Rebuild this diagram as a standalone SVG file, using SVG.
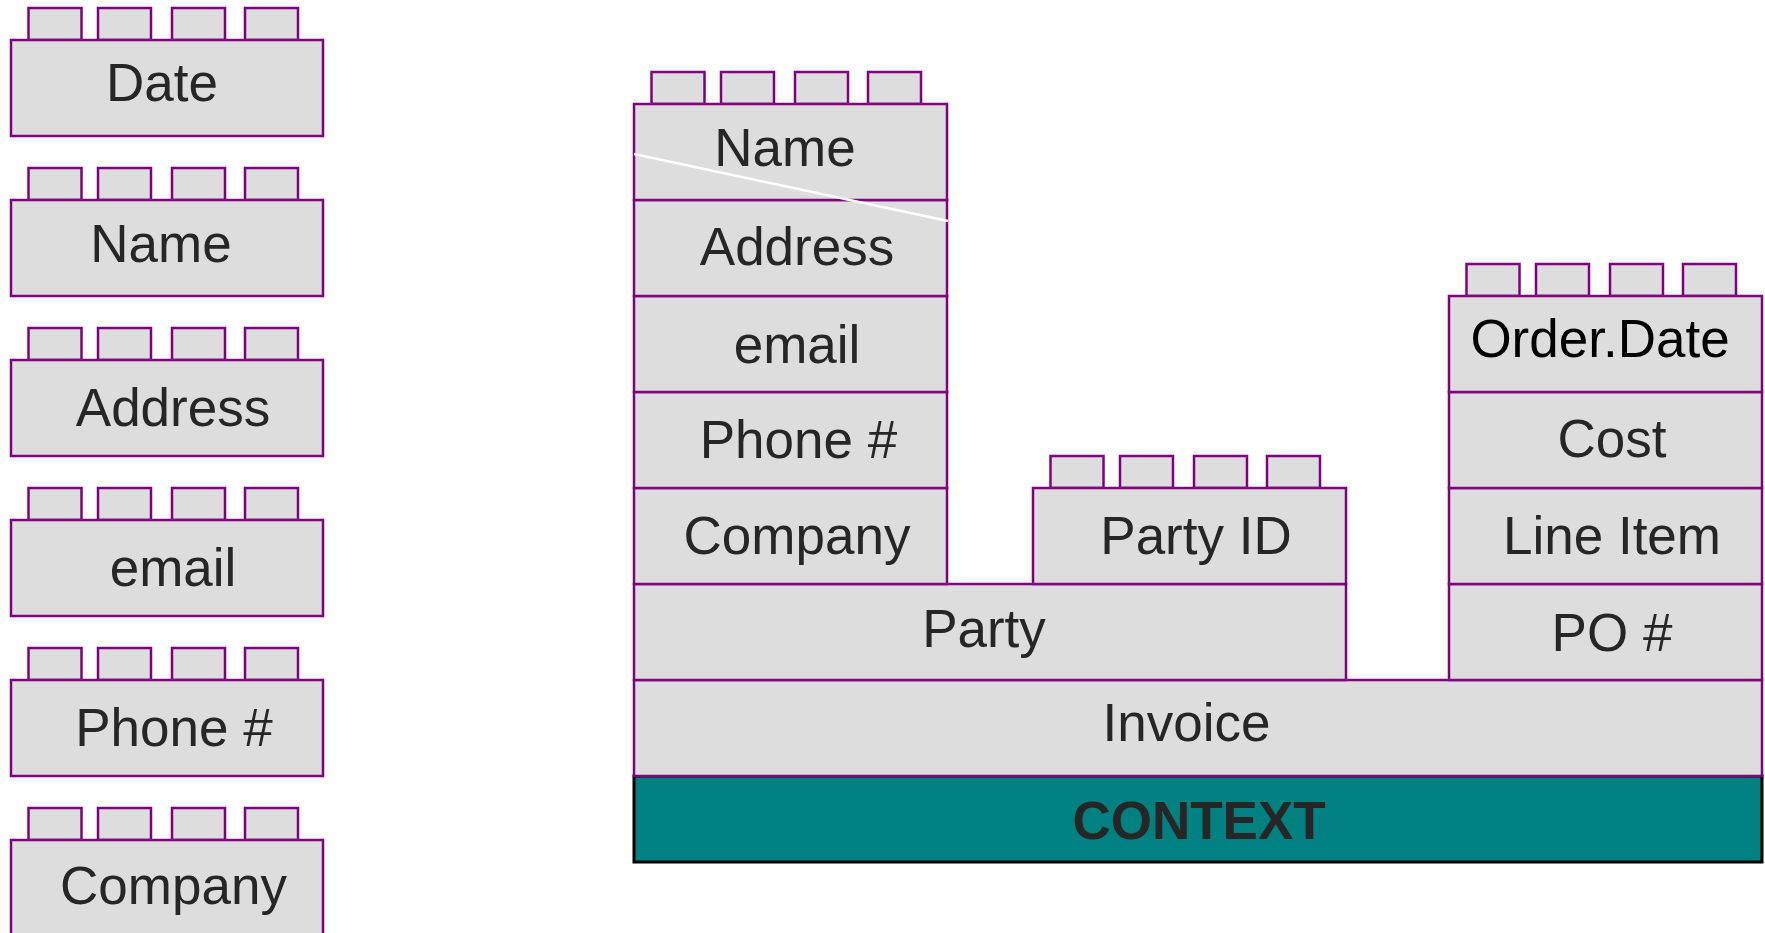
<svg xmlns="http://www.w3.org/2000/svg" xmlns:xlink="http://www.w3.org/1999/xlink" width="1765" height="933" viewBox="0 0 1765 933">
<style>
.b{fill:#dddddd;stroke:#800080;stroke-width:2.5}
.t{font-family:"Liberation Sans",Arial,sans-serif;font-size:53px;fill:#262626;text-anchor:middle}
.k{fill:#000000}
.ctx{fill:#008080;stroke:#000000;stroke-width:3}
.ct{font-family:"Liberation Sans",Arial,sans-serif;font-size:53px;font-weight:bold;fill:#262626;text-anchor:middle}
</style>
<defs>
<g id="studs">
<rect class="b" x="17.5" y="-32" width="53" height="32"/>
<rect class="b" x="87" y="-32" width="53" height="32"/>
<rect class="b" x="161" y="-32" width="53" height="32"/>
<rect class="b" x="234" y="-32" width="53" height="32"/>
</g>
</defs>
<rect width="1765" height="933" fill="#ffffff"/>

<g id="left-date"><use xlink:href="#studs" x="11" y="40"/><rect class="b" x="11" y="40" width="312" height="96"/><text class="t" x="162" y="101">Date</text></g>
<g id="left-name"><use xlink:href="#studs" x="11" y="200"/><rect class="b" x="11" y="200" width="312" height="96"/><text class="t" x="161" y="262">Name</text></g>
<g id="left-address"><use xlink:href="#studs" x="11" y="360"/><rect class="b" x="11" y="360" width="312" height="96"/><text class="t" x="173" y="426">Address</text></g>
<g id="left-email"><use xlink:href="#studs" x="11" y="520"/><rect class="b" x="11" y="520" width="312" height="96"/><text class="t" x="173" y="586">email</text></g>
<g id="left-phone"><use xlink:href="#studs" x="11" y="680"/><rect class="b" x="11" y="680" width="312" height="96"/><text class="t" x="174" y="746">Phone #</text></g>
<g id="left-company"><use xlink:href="#studs" x="11" y="840"/><rect class="b" x="11" y="840" width="312" height="96"/><text class="t" x="173.5" y="904">Company</text></g>

<g id="context"><rect class="ctx" x="634" y="776" width="1128" height="86"/><text class="ct" x="1199" y="839">CONTEXT</text></g>
<g id="invoice"><rect class="b" x="634" y="680" width="1128" height="96"/><text class="t" x="1186.5" y="741">Invoice</text></g>
<g id="party"><rect class="b" x="634" y="584" width="712" height="96"/><text class="t" x="984" y="647">Party</text></g>
<g id="company"><rect class="b" x="634" y="488" width="313" height="96"/><text class="t" x="797" y="554">Company</text></g>
<g id="phone"><rect class="b" x="634" y="392" width="313" height="96"/><text class="t" x="798.5" y="458">Phone #</text></g>
<g id="email"><rect class="b" x="634" y="296" width="313" height="96"/><text class="t" x="797" y="363">email</text></g>
<g id="address"><rect class="b" x="634" y="200" width="313" height="96"/><text class="t" x="797" y="265">Address</text></g>
<g id="name"><use xlink:href="#studs" x="634" y="104"/><rect class="b" x="634" y="104" width="313" height="96"/><text class="t" x="785" y="166">Name</text></g>

<g id="party-id"><use xlink:href="#studs" x="1033" y="488"/><rect class="b" x="1033" y="488" width="313" height="96"/><text class="t" x="1196" y="554">Party ID</text></g>

<g id="po"><rect class="b" x="1449" y="584" width="313" height="96"/><text class="t" x="1612" y="651">PO #</text></g>
<g id="line-item"><rect class="b" x="1449" y="488" width="313" height="96"/><text class="t" x="1612" y="554">Line Item</text></g>
<g id="cost"><rect class="b" x="1449" y="392" width="313" height="96"/><text class="t" x="1612" y="457">Cost</text></g>
<g id="order-date"><use xlink:href="#studs" x="1449" y="296"/><rect class="b" x="1449" y="296" width="313" height="96"/><text class="t k" x="1600" y="357">Order.Date</text></g>

<g id="connectors"><line x1="634" y1="154" x2="948" y2="221" stroke="#ffffff" stroke-width="2.5"/></g>
</svg>
